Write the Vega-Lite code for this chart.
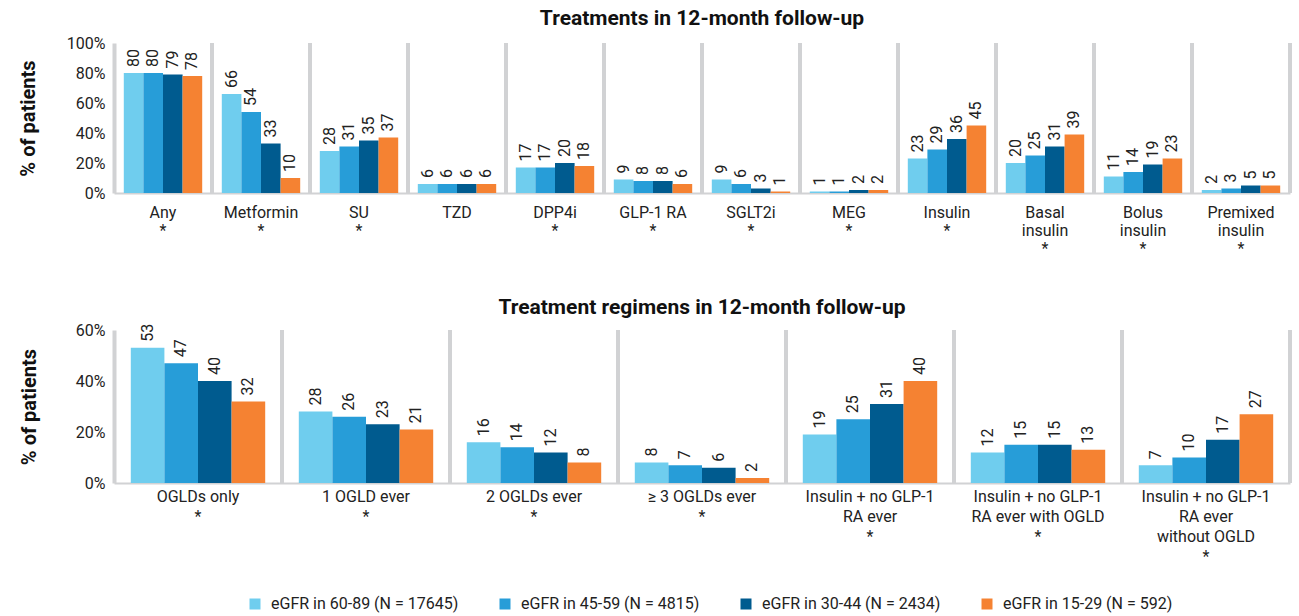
{
  "$schema": "https://vega.github.io/schema/vega-lite/v6.json",
  "padding": {"left": 18, "top": 8, "right": 5, "bottom": 5},
  "background": "white",
  "datasets": {
    "top": [
      {"cat": "Any|*", "group": "eGFR in 60-89 (N = 17645)", "value": 80},
      {"cat": "Any|*", "group": "eGFR in 45-59 (N = 4815)", "value": 80},
      {"cat": "Any|*", "group": "eGFR in 30-44 (N = 2434)", "value": 79},
      {"cat": "Any|*", "group": "eGFR in 15-29 (N = 592)", "value": 78},
      {"cat": "Metformin|*", "group": "eGFR in 60-89 (N = 17645)", "value": 66},
      {"cat": "Metformin|*", "group": "eGFR in 45-59 (N = 4815)", "value": 54},
      {"cat": "Metformin|*", "group": "eGFR in 30-44 (N = 2434)", "value": 33},
      {"cat": "Metformin|*", "group": "eGFR in 15-29 (N = 592)", "value": 10},
      {"cat": "SU|*", "group": "eGFR in 60-89 (N = 17645)", "value": 28},
      {"cat": "SU|*", "group": "eGFR in 45-59 (N = 4815)", "value": 31},
      {"cat": "SU|*", "group": "eGFR in 30-44 (N = 2434)", "value": 35},
      {"cat": "SU|*", "group": "eGFR in 15-29 (N = 592)", "value": 37},
      {"cat": "TZD", "group": "eGFR in 60-89 (N = 17645)", "value": 6},
      {"cat": "TZD", "group": "eGFR in 45-59 (N = 4815)", "value": 6},
      {"cat": "TZD", "group": "eGFR in 30-44 (N = 2434)", "value": 6},
      {"cat": "TZD", "group": "eGFR in 15-29 (N = 592)", "value": 6},
      {"cat": "DPP4i|*", "group": "eGFR in 60-89 (N = 17645)", "value": 17},
      {"cat": "DPP4i|*", "group": "eGFR in 45-59 (N = 4815)", "value": 17},
      {"cat": "DPP4i|*", "group": "eGFR in 30-44 (N = 2434)", "value": 20},
      {"cat": "DPP4i|*", "group": "eGFR in 15-29 (N = 592)", "value": 18},
      {"cat": "GLP-1 RA|*", "group": "eGFR in 60-89 (N = 17645)", "value": 9},
      {"cat": "GLP-1 RA|*", "group": "eGFR in 45-59 (N = 4815)", "value": 8},
      {"cat": "GLP-1 RA|*", "group": "eGFR in 30-44 (N = 2434)", "value": 8},
      {"cat": "GLP-1 RA|*", "group": "eGFR in 15-29 (N = 592)", "value": 6},
      {"cat": "SGLT2i|*", "group": "eGFR in 60-89 (N = 17645)", "value": 9},
      {"cat": "SGLT2i|*", "group": "eGFR in 45-59 (N = 4815)", "value": 6},
      {"cat": "SGLT2i|*", "group": "eGFR in 30-44 (N = 2434)", "value": 3},
      {"cat": "SGLT2i|*", "group": "eGFR in 15-29 (N = 592)", "value": 1},
      {"cat": "MEG|*", "group": "eGFR in 60-89 (N = 17645)", "value": 1},
      {"cat": "MEG|*", "group": "eGFR in 45-59 (N = 4815)", "value": 1},
      {"cat": "MEG|*", "group": "eGFR in 30-44 (N = 2434)", "value": 2},
      {"cat": "MEG|*", "group": "eGFR in 15-29 (N = 592)", "value": 2},
      {"cat": "Insulin|*", "group": "eGFR in 60-89 (N = 17645)", "value": 23},
      {"cat": "Insulin|*", "group": "eGFR in 45-59 (N = 4815)", "value": 29},
      {"cat": "Insulin|*", "group": "eGFR in 30-44 (N = 2434)", "value": 36},
      {"cat": "Insulin|*", "group": "eGFR in 15-29 (N = 592)", "value": 45},
      {"cat": "Basal|insulin|*", "group": "eGFR in 60-89 (N = 17645)", "value": 20},
      {"cat": "Basal|insulin|*", "group": "eGFR in 45-59 (N = 4815)", "value": 25},
      {"cat": "Basal|insulin|*", "group": "eGFR in 30-44 (N = 2434)", "value": 31},
      {"cat": "Basal|insulin|*", "group": "eGFR in 15-29 (N = 592)", "value": 39},
      {"cat": "Bolus|insulin|*", "group": "eGFR in 60-89 (N = 17645)", "value": 11},
      {"cat": "Bolus|insulin|*", "group": "eGFR in 45-59 (N = 4815)", "value": 14},
      {"cat": "Bolus|insulin|*", "group": "eGFR in 30-44 (N = 2434)", "value": 19},
      {"cat": "Bolus|insulin|*", "group": "eGFR in 15-29 (N = 592)", "value": 23},
      {"cat": "Premixed|insulin|*", "group": "eGFR in 60-89 (N = 17645)", "value": 2},
      {"cat": "Premixed|insulin|*", "group": "eGFR in 45-59 (N = 4815)", "value": 3},
      {"cat": "Premixed|insulin|*", "group": "eGFR in 30-44 (N = 2434)", "value": 5},
      {"cat": "Premixed|insulin|*", "group": "eGFR in 15-29 (N = 592)", "value": 5}
    ],
    "bottom": [
      {"cat": "OGLDs only|*", "group": "eGFR in 60-89 (N = 17645)", "value": 53},
      {"cat": "OGLDs only|*", "group": "eGFR in 45-59 (N = 4815)", "value": 47},
      {"cat": "OGLDs only|*", "group": "eGFR in 30-44 (N = 2434)", "value": 40},
      {"cat": "OGLDs only|*", "group": "eGFR in 15-29 (N = 592)", "value": 32},
      {"cat": "1 OGLD ever|*", "group": "eGFR in 60-89 (N = 17645)", "value": 28},
      {"cat": "1 OGLD ever|*", "group": "eGFR in 45-59 (N = 4815)", "value": 26},
      {"cat": "1 OGLD ever|*", "group": "eGFR in 30-44 (N = 2434)", "value": 23},
      {"cat": "1 OGLD ever|*", "group": "eGFR in 15-29 (N = 592)", "value": 21},
      {"cat": "2 OGLDs ever|*", "group": "eGFR in 60-89 (N = 17645)", "value": 16},
      {"cat": "2 OGLDs ever|*", "group": "eGFR in 45-59 (N = 4815)", "value": 14},
      {"cat": "2 OGLDs ever|*", "group": "eGFR in 30-44 (N = 2434)", "value": 12},
      {"cat": "2 OGLDs ever|*", "group": "eGFR in 15-29 (N = 592)", "value": 8},
      {"cat": "≥ 3 OGLDs ever|*", "group": "eGFR in 60-89 (N = 17645)", "value": 8},
      {"cat": "≥ 3 OGLDs ever|*", "group": "eGFR in 45-59 (N = 4815)", "value": 7},
      {"cat": "≥ 3 OGLDs ever|*", "group": "eGFR in 30-44 (N = 2434)", "value": 6},
      {"cat": "≥ 3 OGLDs ever|*", "group": "eGFR in 15-29 (N = 592)", "value": 2},
      {"cat": "Insulin + no GLP-1|RA ever|*", "group": "eGFR in 60-89 (N = 17645)", "value": 19},
      {"cat": "Insulin + no GLP-1|RA ever|*", "group": "eGFR in 45-59 (N = 4815)", "value": 25},
      {"cat": "Insulin + no GLP-1|RA ever|*", "group": "eGFR in 30-44 (N = 2434)", "value": 31},
      {"cat": "Insulin + no GLP-1|RA ever|*", "group": "eGFR in 15-29 (N = 592)", "value": 40},
      {"cat": "Insulin + no GLP-1|RA ever with OGLD|*", "group": "eGFR in 60-89 (N = 17645)", "value": 12},
      {"cat": "Insulin + no GLP-1|RA ever with OGLD|*", "group": "eGFR in 45-59 (N = 4815)", "value": 15},
      {"cat": "Insulin + no GLP-1|RA ever with OGLD|*", "group": "eGFR in 30-44 (N = 2434)", "value": 15},
      {"cat": "Insulin + no GLP-1|RA ever with OGLD|*", "group": "eGFR in 15-29 (N = 592)", "value": 13},
      {"cat": "Insulin + no GLP-1|RA ever|without OGLD|*", "group": "eGFR in 60-89 (N = 17645)", "value": 7},
      {"cat": "Insulin + no GLP-1|RA ever|without OGLD|*", "group": "eGFR in 45-59 (N = 4815)", "value": 10},
      {"cat": "Insulin + no GLP-1|RA ever|without OGLD|*", "group": "eGFR in 30-44 (N = 2434)", "value": 17},
      {"cat": "Insulin + no GLP-1|RA ever|without OGLD|*", "group": "eGFR in 15-29 (N = 592)", "value": 27}
    ]
  },
  "spacing": 41,
  "vconcat": [
    {
      "width": 1176,
      "height": 150,
      "data": {"name": "top"},
      "title": {"text": "Treatments in 12-month follow-up", "offset": 6},
      "layer": [
        {
          "mark": {"type": "rule", "color": "#d1d2d4", "strokeWidth": 4},
          "encoding": {
            "x": {"field": "cat", "type": "nominal", "sort": null, "bandPosition": 1, "title": null, "scale": {"paddingInner": 0, "paddingOuter": 0},
              "axis": {"labelExpr": "split(datum.label, '|')", "labelAngle": 0, "labelAlign": "center", "labelBaseline": "top", "ticks": false, "domainColor": "#d1d2d4", "domainWidth": 2, "labelPadding": 11, "labelLineHeight": 18}}
          }
        },
        {
          "mark": {"type": "bar"},
          "encoding": {
            "x": {"field": "cat", "type": "nominal", "sort": null, "title": null, "scale": {"paddingInner": 0, "paddingOuter": 0},
              "axis": {"labelExpr": "split(datum.label, '|')", "labelAngle": 0, "labelAlign": "center", "labelBaseline": "top", "ticks": false, "domainColor": "#d1d2d4", "domainWidth": 2, "labelPadding": 11, "labelLineHeight": 18}},
            "xOffset": {"field": "group", "type": "nominal", "sort": null, "scale": {"paddingOuter": 0.5, "paddingInner": 0}},
            "y": {"field": "value", "type": "quantitative", "title": "% of patients",
              "scale": {"domain": [0, 100]},
              "axis": {"values": [0, 20, 40, 60, 80, 100], "labelExpr": "datum.value + '%'", "labelOverlap": false, "grid": false, "ticks": false, "domainColor": "#d1d2d4", "domainWidth": 4, "labelPadding": 9, "titlePadding": 28}},
            "color": {"field": "group", "type": "nominal", "sort": null,
              "legend": {"orient": "none", "direction": "horizontal", "legendX": 133, "legendY": 553}}
          }
        },
        {
          "mark": {"type": "text", "angle": 270, "align": "left", "baseline": "middle", "dx": 6, "fontSize": 16, "color": "#222222"},
          "encoding": {
            "x": {"field": "cat", "type": "nominal", "sort": null, "title": null, "scale": {"paddingInner": 0, "paddingOuter": 0},
              "axis": {"labelExpr": "split(datum.label, '|')", "labelAngle": 0, "labelAlign": "center", "labelBaseline": "top", "ticks": false, "domainColor": "#d1d2d4", "domainWidth": 2, "labelPadding": 11, "labelLineHeight": 18}},
            "xOffset": {"field": "group", "type": "nominal", "sort": null, "scale": {"paddingOuter": 0.5, "paddingInner": 0}},
            "y": {"field": "value", "type": "quantitative", "title": "% of patients",
              "scale": {"domain": [0, 100]},
              "axis": {"values": [0, 20, 40, 60, 80, 100], "labelExpr": "datum.value + '%'", "labelOverlap": false, "grid": false, "ticks": false, "domainColor": "#d1d2d4", "domainWidth": 4, "labelPadding": 9, "titlePadding": 28}},
            "text": {"field": "value", "type": "quantitative"}
          }
        }
      ]
    },
    {
      "width": 1176,
      "height": 153,
      "data": {"name": "bottom"},
      "title": {"text": "Treatment regimens in 12-month follow-up", "offset": 4},
      "layer": [
        {
          "mark": {"type": "rule", "color": "#d1d2d4", "strokeWidth": 4},
          "encoding": {
            "x": {"field": "cat", "type": "nominal", "sort": null, "bandPosition": 1, "title": null, "scale": {"paddingInner": 0, "paddingOuter": 0},
              "axis": {"labelExpr": "split(datum.label, '|')", "labelAngle": 0, "labelAlign": "center", "labelBaseline": "top", "ticks": false, "domainColor": "#d1d2d4", "domainWidth": 2, "labelPadding": 5, "labelLineHeight": 20}}
          }
        },
        {
          "mark": {"type": "bar"},
          "encoding": {
            "x": {"field": "cat", "type": "nominal", "sort": null, "title": null, "scale": {"paddingInner": 0, "paddingOuter": 0},
              "axis": {"labelExpr": "split(datum.label, '|')", "labelAngle": 0, "labelAlign": "center", "labelBaseline": "top", "ticks": false, "domainColor": "#d1d2d4", "domainWidth": 2, "labelPadding": 5, "labelLineHeight": 20}},
            "xOffset": {"field": "group", "type": "nominal", "sort": null, "scale": {"paddingOuter": 0.5, "paddingInner": 0}},
            "y": {"field": "value", "type": "quantitative", "title": "% of patients",
              "scale": {"domain": [0, 60]},
              "axis": {"values": [0, 20, 40, 60], "labelExpr": "datum.value + '%'", "labelOverlap": false, "grid": false, "ticks": false, "domainColor": "#d1d2d4", "domainWidth": 4, "labelPadding": 9, "titlePadding": 36}},
            "color": {"field": "group", "type": "nominal", "sort": null}
          }
        },
        {
          "mark": {"type": "text", "angle": 270, "align": "left", "baseline": "middle", "dx": 6, "fontSize": 16, "color": "#222222"},
          "encoding": {
            "x": {"field": "cat", "type": "nominal", "sort": null, "title": null, "scale": {"paddingInner": 0, "paddingOuter": 0},
              "axis": {"labelExpr": "split(datum.label, '|')", "labelAngle": 0, "labelAlign": "center", "labelBaseline": "top", "ticks": false, "domainColor": "#d1d2d4", "domainWidth": 2, "labelPadding": 5, "labelLineHeight": 20}},
            "xOffset": {"field": "group", "type": "nominal", "sort": null, "scale": {"paddingOuter": 0.5, "paddingInner": 0}},
            "y": {"field": "value", "type": "quantitative", "title": "% of patients",
              "scale": {"domain": [0, 60]},
              "axis": {"values": [0, 20, 40, 60], "labelExpr": "datum.value + '%'", "labelOverlap": false, "grid": false, "ticks": false, "domainColor": "#d1d2d4", "domainWidth": 4, "labelPadding": 9, "titlePadding": 36}},
            "text": {"field": "value", "type": "quantitative"}
          }
        }
      ]
    }
  ],
  "resolve": {"scale": {"color": "shared", "x": "independent", "xOffset": "independent", "y": "independent"}, "axis": {"x": "independent", "y": "independent"}},
  "config": {
    "font": "Roboto",
    "view": {"stroke": null},
    "range": {"category": ["#6fcdee", "#279dd8", "#005b8f", "#f58232"]},
    "title": {"fontSize": 21, "fontWeight": "bold", "color": "#111111", "anchor": "middle"},
    "axis": {"labelFontSize": 16, "labelColor": "#222222", "titleFontSize": 20, "titleFontWeight": "bold", "titleColor": "#111111"},
    "legend": {"title": null, "symbolType": "square", "symbolSize": 121, "symbolStrokeWidth": 0, "labelFontSize": 16, "labelColor": "#222222", "labelLimit": 400, "labelOffset": 8, "columnPadding": 38}
  }
}
